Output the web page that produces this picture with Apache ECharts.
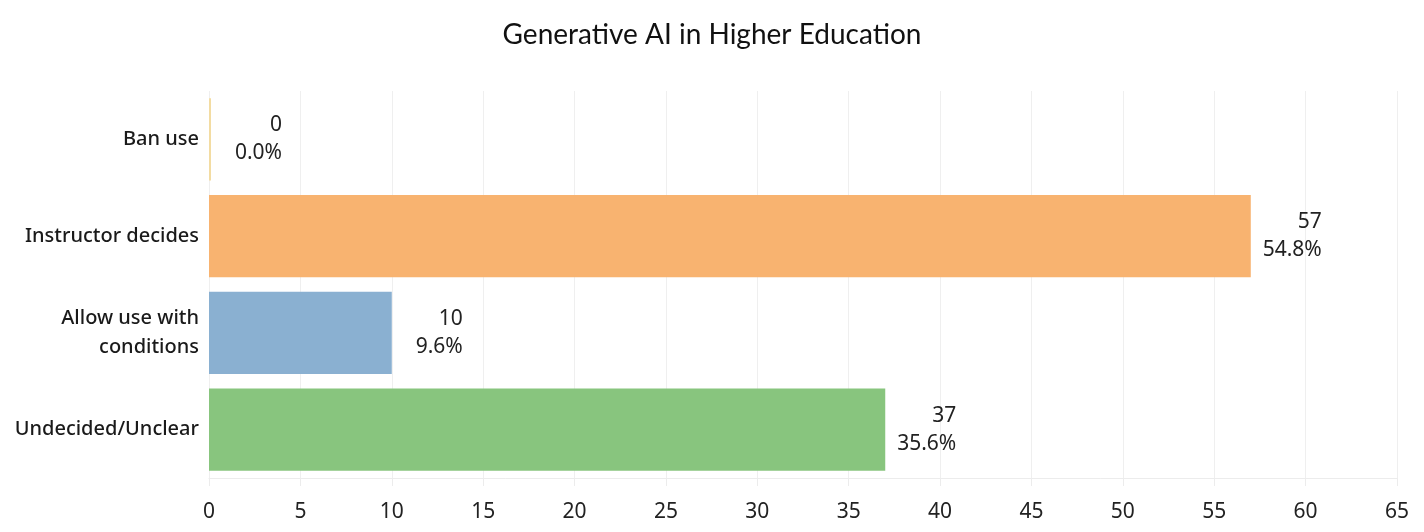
<!DOCTYPE html>
<html>
<head>
<meta charset="utf-8">
<script src="https://cdn.jsdelivr.net/npm/echarts@6/dist/echarts.min.js"></script>
<style>
  html, body { margin: 0; padding: 0; background: #fff; }
  #main { width: 1424px; height: 532px; }
</style>
</head>
<body>
<div id="main"></div>
<script>
// data
const categories = ['Ban use', 'Instructor decides', 'Allow use with\nconditions', 'Undecided/Unclear']
const counts = [0, 57, 10, 37]
const percents = ['0.0%', '54.8%', '9.6%', '35.6%']
const xTicks = { min: 0, max: 65, step: 5 }

const palette = ['#f3dca2', '#f8b370', '#8ab0d1', '#88c57e']
const FONT = 'Noto Sans'

let myChart = echarts.init(document.getElementById('main'))
let options = {
  animation: false,
  textStyle: { fontFamily: FONT },
  title: {
    text: 'Generative AI in Higher Education',
    left: 'center',
    top: 16,
    textStyle: { fontFamily: 'Lato', fontSize: 28, fontWeight: 'normal', color: '#111' }
  },
  grid: { left: 209, right: 27, top: 91, bottom: 54, containLabel: false },
  xAxis: {
    type: 'value',
    min: xTicks.min,
    max: xTicks.max,
    interval: xTicks.step,
    axisLine: { show: true, lineStyle: { color: '#ececec', width: 1 } },
    axisTick: { show: true, length: 8, lineStyle: { color: '#ececec' } },
    splitLine: { show: true, lineStyle: { color: '#efefef', width: 1 } },
    axisLabel: { fontFamily: FONT, fontSize: 21, color: '#222', margin: 24 }
  },
  yAxis: {
    type: 'category',
    inverse: true,
    data: categories,
    axisLine: { show: false },
    axisTick: { show: false },
    axisLabel: { fontFamily: FONT, fontSize: 20, fontWeight: 500, color: '#1a1a1a', margin: 10, lineHeight: 29 }
  },
  series: [{
    type: 'bar',
    barCategoryGap: '15%',
    barMinHeight: 2,
    data: counts.map((v, i) => ({ value: v, itemStyle: { color: palette[i] } })),
    label: {
      show: true,
      position: 'right',
      distance: 7,
      formatter: p => '{v|' + p.value + '}\n{v|' + percents[p.dataIndex] + '}',
      rich: {
        v: { fontFamily: FONT, fontSize: 21, color: '#222', width: 64, align: 'right', lineHeight: 28 }
      }
    }
  }]
}
myChart.setOption(options)
</script>
</body>
</html>
